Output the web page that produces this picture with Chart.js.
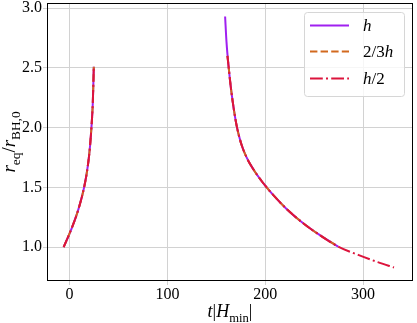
<!DOCTYPE html>
<html lang="en">
<head>
<meta charset="UTF-8">
<title>r_eq / r_BH,0 vs t|H_min|</title>
<script src="https://cdn.jsdelivr.net/npm/chart.js"></script>
<style>
  html, body { margin: 0; padding: 0; background: #fff; }
</style>
</head>
<body>
<canvas id="myChart" width="417" height="323"></canvas>
<script>
// values
const seriesLabels = ['h', '2/3h', 'h/2'];

// first branch, same for all three step sizes
const tLeft = [-6, 2.3, 9.2, 14.9, 18.7, 21.0, 22.7, 23.8, 24.4, 24.8];
const rLeft = [1.0, 1.16, 1.32, 1.50, 1.68, 1.85, 2.04, 2.21, 2.38, 2.51];

// second branch, step h
const tRightH = [159.0, 160.4, 162.7, 165.1, 167.8, 171.2, 175.3, 180.7, 188.0, 195.7, 200.0, 208.3, 221.8, 238.8, 255.9, 274.5];
const rRightH = [2.93, 2.72, 2.50, 2.32, 2.16, 2.00, 1.87, 1.755, 1.65, 1.56, 1.515, 1.435, 1.32, 1.20, 1.10, 1.005];

// second branch, step 2/3h
const tRightTwoThirds = [161.4, 162.7, 165.1, 167.8, 171.2, 175.3, 180.7, 188.0, 195.7, 200.0, 208.3, 221.8, 238.8, 255.9, 274.5];
const rRightTwoThirds = [2.60, 2.50, 2.32, 2.16, 2.00, 1.87, 1.755, 1.65, 1.56, 1.515, 1.435, 1.32, 1.20, 1.10, 1.005];

// second branch, step h/2
const tRightHalf = [161.4, 162.7, 165.1, 167.8, 171.2, 175.3, 180.7, 188.0, 195.7, 200.0, 208.3, 221.8, 238.8, 255.9, 274.5, 295.0, 315.0, 331.6];
const rRightHalf = [2.60, 2.50, 2.32, 2.16, 2.00, 1.87, 1.755, 1.65, 1.56, 1.515, 1.435, 1.32, 1.20, 1.10, 1.005, 0.935, 0.875, 0.83];

const xTicks = [0, 100, 200, 300];
const yTicks = [1.0, 1.5, 2.0, 2.5, 3.0];

const SERIF = '"Liberation Serif", "DejaVu Serif", serif';
const colors = ['#a020f0', '#d2691e', '#dc143c'];
const dashes = [[], [7.4, 3.2], [12.8, 3.2, 2, 3.2]];

function branchPoints(tA, rA, tB, rB) {
    const pts = tA.map((t, i) => ({ x: t, y: rA[i] }));
    pts.push({ x: 100, y: null });   // break between the two branches
    tB.forEach((t, i) => pts.push({ x: t, y: rB[i] }));
    return pts;
}

const seriesData = [
    branchPoints(tLeft, rLeft, tRightH, rRightH),
    branchPoints(tLeft, rLeft, tRightTwoThirds, rRightTwoThirds),
    branchPoints(tLeft, rLeft, tRightHalf, rRightHalf)
];

// text with italic / subscript pieces, drawn on the canvas
function richWidth(ctx, parts, size) {
    let w = 0;
    for (const p of parts) {
        const s = p.sub ? size * 0.7 : size;
        ctx.font = (p.it ? 'italic ' : '') + s + 'px ' + SERIF;
        w += ctx.measureText(p.t).width;
    }
    return w;
}
function drawRich(ctx, parts, x, y, size) {
    let cx = x;
    for (const p of parts) {
        const s = p.sub ? size * 0.7 : size;
        ctx.font = (p.it ? 'italic ' : '') + s + 'px ' + SERIF;
        ctx.fillText(p.t, cx, y + (p.sub ? size * 0.25 : 0));
        cx += ctx.measureText(p.t).width;
    }
}

const legendParts = [
    [{ t: 'h', it: true }],
    [{ t: '2/3' }, { t: 'h', it: true }],
    [{ t: 'h', it: true }, { t: '/2' }]
];

const decorPlugin = {
    id: 'decor',
    afterDraw(chart) {
        const ctx = chart.ctx;
        const a = chart.chartArea;
        ctx.save();
        // frame
        ctx.strokeStyle = '#000';
        ctx.lineWidth = 1;
        ctx.strokeRect(a.left - 0.5, a.top - 0.5, a.right - a.left + 1, a.bottom - a.top + 1);

        ctx.fillStyle = '#000';
        ctx.textBaseline = 'alphabetic';

        // x title
        const xParts = [{ t: 't', it: true }, { t: '|' }, { t: 'H', it: true }, { t: 'min', sub: true }, { t: '|' }];
        const xw = richWidth(ctx, xParts, 18);
        drawRich(ctx, xParts, (a.left + a.right) / 2 - xw / 2, 317, 18);

        // y title
        const yParts = [{ t: 'r', it: true }, { t: 'eq', sub: true }, { t: '/' }, { t: 'r', it: true }, { t: 'BH,0', sub: true }];
        const yw = richWidth(ctx, yParts, 19);
        ctx.save();
        ctx.translate(15, (a.top + a.bottom) / 2);
        ctx.rotate(-Math.PI / 2);
        drawRich(ctx, yParts, -yw / 2, 0, 19);
        ctx.restore();

        // legend
        ctx.beginPath();
        ctx.roundRect(304.5, 12.5, 100, 84, 3);
        ctx.fillStyle = 'rgba(255,255,255,0.8)';
        ctx.fill();
        ctx.strokeStyle = '#d6d6d6';
        ctx.stroke();
        const rows = [25.5, 51.5, 78.5];
        seriesLabels.forEach((lab, i) => {
            ctx.beginPath();
            ctx.strokeStyle = colors[i];
            ctx.lineWidth = 2;
            ctx.setLineDash(dashes[i]);
            ctx.moveTo(310, rows[i]);
            ctx.lineTo(349, rows[i]);
            ctx.stroke();
            ctx.setLineDash([]);
            ctx.fillStyle = '#000';
            drawRich(ctx, legendParts[i], 363, rows[i] + 5.5, 17);
        });
        ctx.restore();
    }
};

const gridColor = '#d2d2d2';

const config = {
    type: 'line',
    data: {
        datasets: seriesLabels.map((lab, i) => ({
            label: lab,
            data: seriesData[i],
            borderColor: colors[i],
            backgroundColor: colors[i],
            borderWidth: 2,
            borderDash: dashes[i],
            pointRadius: 0,
            cubicInterpolationMode: 'monotone',
            fill: false,
            order: 2 - i
        }))
    },
    options: {
        responsive: false,
        animation: false,
        layout: { padding: { top: 4, right: 5, left: 0, bottom: 0 } },
        plugins: {
            legend: { display: false },
            tooltip: { enabled: false }
        },
        scales: {
            x: {
                type: 'linear',
                min: -22,
                max: 350,
                afterBuildTicks: (s) => { s.ticks = xTicks.map(v => ({ value: v })); },
                afterFit: (s) => { s.height = 43; s.paddingLeft = 0; s.paddingRight = 0; },
                grid: { color: gridColor, tickLength: 5 },
                border: { display: false },
                ticks: {
                    color: '#000',
                    padding: 0,
                    maxRotation: 0,
                    font: { family: SERIF, size: 16 }
                }
            },
            y: {
                type: 'linear',
                min: 0.725,
                max: 3.035,
                afterBuildTicks: (s) => { s.ticks = yTicks.map(v => ({ value: v })); },
                afterFit: (s) => { s.width = 48; s.paddingTop = 0; s.paddingBottom = 0; },
                grid: { color: gridColor, tickLength: 5 },
                border: { display: false },
                ticks: {
                    color: '#000',
                    padding: 1,
                    font: { family: SERIF, size: 16 },
                    callback: (v) => v.toFixed(1)
                }
            }
        }
    },
    plugins: [decorPlugin]
};

new Chart(document.getElementById('myChart'), config);
</script>
</body>
</html>
